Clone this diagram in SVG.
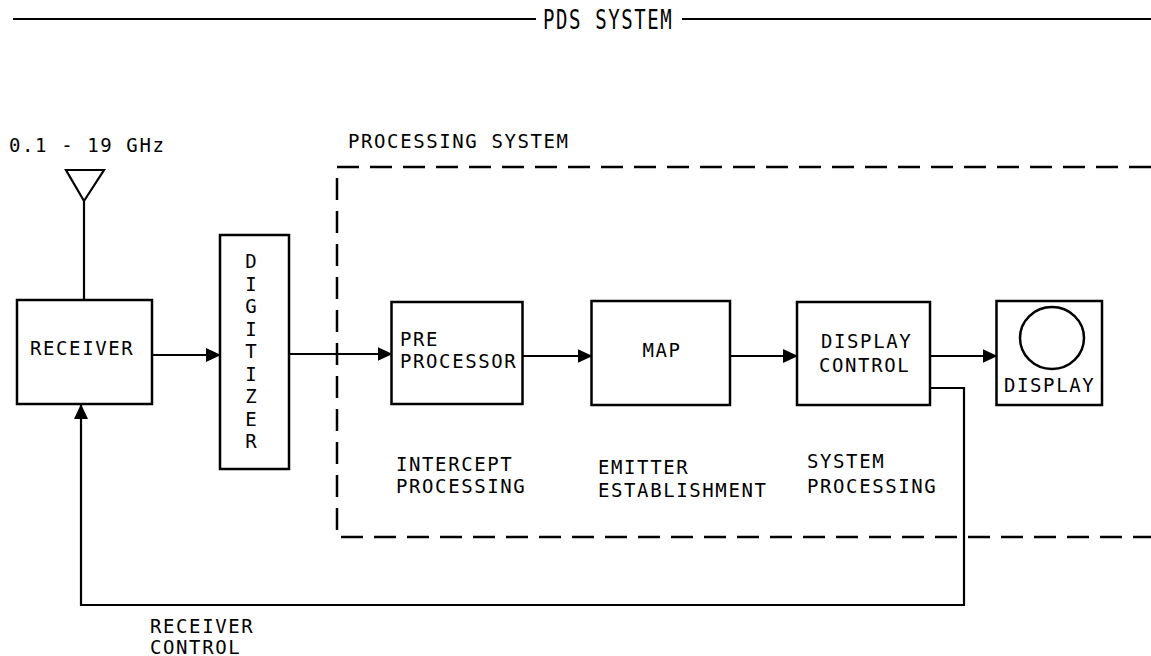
<svg xmlns="http://www.w3.org/2000/svg" width="1151" height="656" viewBox="0 0 1151 656">
<style>
.t{font-family:"DejaVu Sans Mono","Liberation Mono",monospace;font-size:19px;letter-spacing:1.6px;fill:#000}
.box{fill:#fff;stroke:#000;stroke-width:2.5}
.ln{fill:none;stroke:#000;stroke-width:2.2}
.dash{fill:none;stroke:#000;stroke-width:2.5;stroke-dasharray:22 11}
</style>
<defs>
<marker id="ah" markerUnits="userSpaceOnUse" markerWidth="15" markerHeight="14" refX="14" refY="7" orient="auto">
<path d="M0,0 L15,7 L0,14 z" fill="#000"/>
</marker>
</defs>
<rect width="1151" height="656" fill="#fff"/>
<g id="title">
<line class="ln" x1="13" y1="19" x2="536" y2="19"/>
<line class="ln" x1="682" y1="19" x2="1151" y2="19"/>
<text class="t" transform="translate(543,29) scale(1,1.4)" x="0" y="0">PDS SYSTEM</text>
</g>
<g id="processing-system">
<path class="dash" d="M1151,167 H337 V537 H1151"/>
<text class="t" x="348" y="148">PROCESSING SYSTEM</text>
</g>
<g id="antenna">
<path class="ln" d="M66,170 H104 L84,201 Z"/>
<line class="ln" x1="84" y1="201" x2="84" y2="300"/>
<text class="t" x="9" y="152">0.1 - 19 GHz</text>
</g>
<g id="receiver">
<rect class="box" x="17" y="300" width="135" height="104"/>
<text class="t" x="30" y="355">RECEIVER</text>
</g>
<g id="digitizer">
<rect class="box" x="220" y="235" width="69" height="234"/>
<text class="t" text-anchor="middle" style="letter-spacing:0">
<tspan x="251" y="268">D</tspan><tspan x="251" y="290.5">I</tspan><tspan x="251" y="313">G</tspan><tspan x="251" y="335.5">I</tspan><tspan x="251" y="358">T</tspan><tspan x="251" y="380.5">I</tspan><tspan x="251" y="403">Z</tspan><tspan x="251" y="425.5">E</tspan><tspan x="251" y="448">R</tspan>
</text>
</g>
<g id="preprocessor">
<rect class="box" x="391.5" y="302" width="131" height="102"/>
<text class="t" x="400" y="346">PRE</text>
<text class="t" x="400" y="368">PROCESSOR</text>
<text class="t" x="396" y="471">INTERCEPT</text>
<text class="t" x="396" y="493">PROCESSING</text>
</g>
<g id="map">
<rect class="box" x="591.5" y="301" width="138.5" height="104"/>
<text class="t" x="662" y="357" text-anchor="middle">MAP</text>
<text class="t" x="598" y="474">EMITTER</text>
<text class="t" x="598" y="497">ESTABLISHMENT</text>
</g>
<g id="display-control">
<rect class="box" x="797" y="302" width="133" height="103"/>
<text class="t" x="821" y="348">DISPLAY</text>
<text class="t" x="819" y="372">CONTROL</text>
<text class="t" x="807" y="468">SYSTEM</text>
<text class="t" x="807" y="493">PROCESSING</text>
</g>
<g id="display">
<rect class="box" x="996.5" y="301" width="105.5" height="104"/>
<ellipse cx="1052" cy="338" rx="32" ry="31" fill="none" stroke="#000" stroke-width="2.5"/>
<text class="t" x="1004" y="392">DISPLAY</text>
</g>
<g id="connectors">
<line class="ln" x1="152" y1="355" x2="220" y2="355" marker-end="url(#ah)"/>
<line class="ln" x1="289" y1="354" x2="391.5" y2="354" marker-end="url(#ah)"/>
<line class="ln" x1="522.5" y1="356" x2="591.5" y2="356" marker-end="url(#ah)"/>
<line class="ln" x1="730" y1="356" x2="797" y2="356" marker-end="url(#ah)"/>
<line class="ln" x1="930" y1="356" x2="996.5" y2="356" marker-end="url(#ah)"/>
<path class="ln" d="M930,388 H964 V605 H81 V405" marker-end="url(#ah)"/>
<text class="t" x="150" y="633">RECEIVER</text>
<text class="t" x="150" y="654">CONTROL</text>
</g>
</svg>
